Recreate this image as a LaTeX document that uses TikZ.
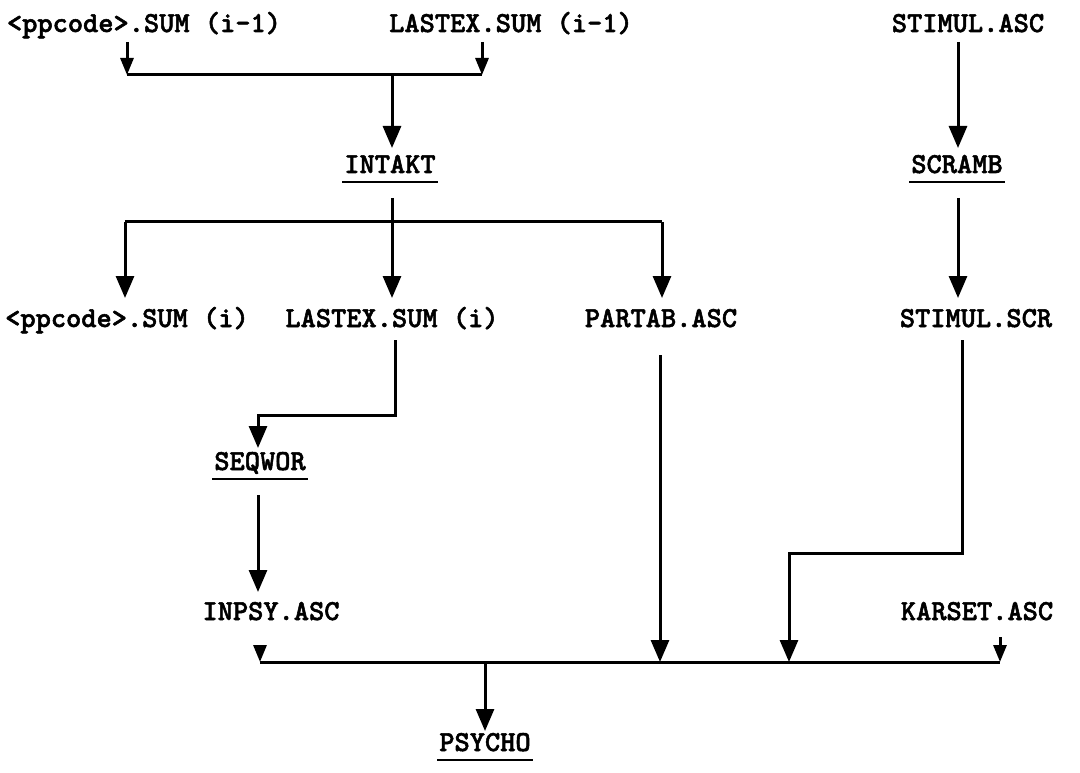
\documentclass[tikz,border=0pt]{standalone}
\usepackage{fontspec}
\newfontfamily\tw{lmmonolt10-bold.otf}[FakeBold=1.8]
\usetikzlibrary{arrows.meta,calc}
\begin{document}
\begin{tikzpicture}[x=1pt,y=-1pt,
  lbl/.style={font=\tw\fontsize{29}{34}\selectfont, inner sep=0pt, anchor=base},
  ln/.style={line width=3pt},
  arr/.style={ln,-{Triangle[width=18pt,length=22pt]}},
  arrs/.style={ln,-{Triangle[width=13pt,length=17pt]}},
  ul/.style={line width=2.6pt}]
\useasboundingbox (0,0) rectangle (1080,773);
\fill[white] (0,0) rectangle (1080,773);

% labels
\node[lbl] (A1) at (144,32) {<ppcode>.SUM (i-1)};
\node[lbl] (B1) at (511,32) {LASTEX.SUM (i-1)};
\node[lbl] (S1) at (968,32) {STIMUL.ASC};
\node[lbl] (intakt) at (390,173) {INTAKT};
\node[lbl] (scramb) at (957,173) {SCRAMB};
\node[lbl] (A2) at (127,327) {<ppcode>.SUM (i)};
\node[lbl] (B2) at (392,327) {LASTEX.SUM (i)};
\node[lbl] (partab) at (661,327) {PARTAB.ASC};
\node[lbl] (S2) at (976,327) {STIMUL.SCR};
\node[lbl] (seqwor) at (260,470) {SEQWOR};
\node[lbl] (inpsy) at (271,620) {INPSY.ASC};
\node[lbl] (karset) at (977,620) {KARSET.ASC};
\node[lbl] (psycho) at (485,751) {PSYCHO};

% underlines
\foreach \n in {intakt,scramb,seqwor,psycho}
  \draw[ul] ($(\n.base west)+(-2,9)$) -- ($(\n.base east)+(2,9)$);

% junction coordinates
\coordinate (b1l) at (127,75);
\coordinate (b1r) at (482,75);
\coordinate (b1m) at (392,75);
\coordinate (b2l) at (125,222);
\coordinate (b2r) at (662,222);
\coordinate (s) at (958,0);
\coordinate (e1) at (395,415);
\coordinate (e2) at (258,415);
\coordinate (b3l) at (260,662);
\coordinate (b3r) at (1000,662);
\coordinate (b3p) at (660,662);
\coordinate (b3s) at (789,662);
\coordinate (b3m) at (485,662);
\coordinate (f1) at (962,553);
\coordinate (f2) at (789,553);

% top bus
\draw[arrs] ($(A1.base -| b1l)+(0,10)$) -- (b1l);
\draw[arrs] ($(B1.base -| b1r)+(0,10)$) -- (b1r);
\draw[ln] (b1l) -- (b1r);
\draw[arr] (b1m) -- ($(intakt.base -| b1m)+(0,-25)$);

% INTAKT outputs
\draw[arr] ($(intakt.base -| b1m)+(0,25)$) -- ($(B2.base -| b1m)+(0,-29)$);
\draw[ln] (b2l) -- (b2r);
\draw[arr] (b2l) -- ($(A2.base -| b2l)+(0,-29)$);
\draw[arr] (b2r) -- ($(partab.base -| b2r)+(0,-29)$);

% STIMUL chain
\draw[arr] ($(S1.base -| s)+(0,10)$) -- ($(scramb.base -| s)+(0,-25)$);
\draw[arr] ($(scramb.base -| s)+(0,25)$) -- ($(S2.base -| s)+(0,-29)$);

% LASTEX -> SEQWOR
\draw[arr] ($(B2.base -| e1)+(0,13)$) -- (e1) -- (e2) -- ($(seqwor.base -| e2)+(0,-22)$);

% SEQWOR -> INPSY
\draw[arr] ($(seqwor.base -| e2)+(0,25)$) -- ($(inpsy.base -| e2)+(0,-28)$);

% bottom bus
\draw[ln] (b3l) -- (b3r);
\draw[arrs] ($(inpsy.base -| b3l)+(0,25)$) -- (b3l);
\draw[arrs] ($(karset.base -| b3r)+(0,17)$) -- (b3r);
\draw[arr] ($(partab.base -| b3p)+(0,28)$) -- (b3p);
\draw[arr] ($(S2.base -| f1)+(0,13)$) -- (f1) -- (f2) -- (b3s);
\draw[arr] (b3m) -- ($(psycho.base -| b3m)+(0,-20)$);
\end{tikzpicture}
\end{document}
